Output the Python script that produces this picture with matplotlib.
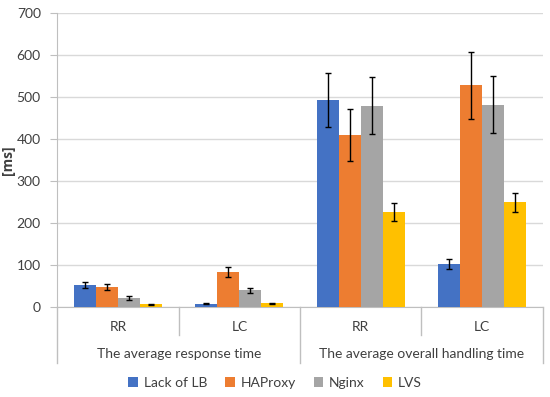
import numpy as np
import matplotlib
matplotlib.use("Agg")
from matplotlib import pyplot as plt

plt.rcParams['font.family'] = ['Lato', 'DejaVu Sans']

categories = ['RR', 'LC', 'RR', 'LC']
groups = ['The average response time', 'The average overall handling time']
series = ['Lack of LB', 'HAProxy', 'Nginx', 'LVS']
colors = ['#4472C4', '#ED7D31', '#A5A5A5', '#FFC000']

lack_lb = [52, 8, 494, 103]
haproxy = [48, 83, 410, 528]
nginx = [22, 40, 480, 482]
lvs = [7, 9, 227, 250]

lack_lb_err = [7, 1, 64, 13]
haproxy_err = [8, 12, 62, 80]
nginx_err = [4, 6, 67, 68]
lvs_err = [1.5, 1.5, 21, 23]

values = [lack_lb, haproxy, nginx, lvs]
errors = [lack_lb_err, haproxy_err, nginx_err, lvs_err]

fig = plt.figure(figsize=(5.5, 3.97), dpi=100)
ax = fig.add_axes([0.1045, 0.226, 0.882, 0.741])

x = np.arange(len(categories))
w = 0.181
for i in range(4):
    ax.bar(x + (i - 1.5) * w, values[i], w, color=colors[i], label=series[i], zorder=3,
           yerr=errors[i], error_kw=dict(ecolor='black', elinewidth=1, capsize=2.3, capthick=1))

ax.set_xlim(-0.5, 3.5)
ax.set_ylim(0, 700)
ax.set_yticks(range(0, 701, 100))
ax.yaxis.grid(True, color='#D9D9D9', lw=1, zorder=0)
ax.tick_params(axis='y', length=5, color='#BFBFBF', labelsize=10, labelcolor='#404040', pad=7)
ax.set_xticks([])
for s in ['top', 'right']:
    ax.spines[s].set_visible(False)
ax.spines['left'].set_color('#BFBFBF')
ax.spines['bottom'].set_color('#BFBFBF')

ax.set_ylabel('[ms]', fontweight='bold', fontsize=10, color='#404040',
              family=['Open Sans', 'DejaVu Sans'])
ax.yaxis.set_label_coords(-0.088, 0.5)

# two-level category axis
tr = ax.get_xaxis_transform()
for xv, depth in [(-0.5, -0.189), (0.5, -0.094), (1.5, -0.189), (2.5, -0.094), (3.5, -0.189)]:
    ax.plot([xv, xv], [0, depth], color='#BFBFBF', lw=1, transform=tr, clip_on=False)
for xi, c in zip(x, categories):
    ax.text(xi, -0.067, c, transform=tr, ha='center', va='center', fontsize=10, color='#404040')
for gi, g in enumerate(groups):
    ax.text(0.5 + 2 * gi, -0.159, g, transform=tr, ha='center', va='center', fontsize=10, color='#404040')

fig.legend(loc='center', bbox_to_anchor=(0.5, 0.035), ncol=4, frameon=False, fontsize=10,
           handlelength=0.7, handleheight=0.7, handletextpad=0.4, columnspacing=1.3,
           labelcolor='#404040')

plt.savefig('out.png', dpi=100)
